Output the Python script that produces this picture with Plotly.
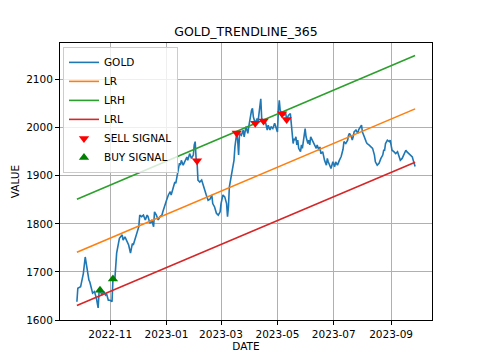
import plotly.graph_objects as go

# ---- data ----
dates = [
    "2022-09-26", "2022-09-27", "2022-09-30", "2022-10-03", "2022-10-05", "2022-10-07", "2022-10-09",
    "2022-10-10", "2022-10-13", "2022-10-15", "2022-10-17", "2022-10-19", "2022-10-20", "2022-10-21",
    "2022-10-23", "2022-10-25", "2022-10-27", "2022-10-28", "2022-10-30", "2022-11-01", "2022-11-03",
    "2022-11-04", "2022-11-06", "2022-11-08", "2022-11-11", "2022-11-14", "2022-11-15", "2022-11-17",
    "2022-11-19", "2022-11-21", "2022-11-23", "2022-11-25", "2022-11-26", "2022-11-28", "2022-11-30",
    "2022-12-02", "2022-12-03", "2022-12-05", "2022-12-07", "2022-12-09", "2022-12-11", "2022-12-12",
    "2022-12-14", "2022-12-16", "2022-12-18", "2022-12-19", "2022-12-21", "2022-12-23", "2022-12-25",
    "2022-12-27", "2022-12-28", "2022-12-30", "2023-01-01", "2023-01-03", "2023-01-05", "2023-01-06",
    "2023-01-08", "2023-01-10", "2023-01-11", "2023-01-13", "2023-01-14", "2023-01-15", "2023-01-16",
    "2023-01-17", "2023-01-19", "2023-01-21", "2023-01-23", "2023-01-24", "2023-01-26", "2023-01-28",
    "2023-01-30", "2023-01-31", "2023-02-01", "2023-02-02", "2023-02-03", "2023-02-04", "2023-02-06",
    "2023-02-08", "2023-02-10", "2023-02-11", "2023-02-13", "2023-02-15", "2023-02-17", "2023-02-19",
    "2023-02-20", "2023-02-22", "2023-02-24", "2023-02-26", "2023-02-28", "2023-03-01", "2023-03-03",
    "2023-03-05", "2023-03-07", "2023-03-08", "2023-03-09", "2023-03-10", "2023-03-12", "2023-03-14",
    "2023-03-15", "2023-03-16", "2023-03-17", "2023-03-18", "2023-03-19", "2023-03-20", "2023-03-21",
    "2023-03-23", "2023-03-25", "2023-03-26", "2023-03-28", "2023-03-30", "2023-03-31", "2023-04-01",
    "2023-04-03", "2023-04-04", "2023-04-05", "2023-04-07", "2023-04-09", "2023-04-10", "2023-04-12",
    "2023-04-13", "2023-04-14", "2023-04-16", "2023-04-18", "2023-04-20", "2023-04-21", "2023-04-23",
    "2023-04-24", "2023-04-26", "2023-04-28", "2023-04-30", "2023-05-01", "2023-05-02", "2023-05-03",
    "2023-05-04", "2023-05-06", "2023-05-08", "2023-05-10", "2023-05-11", "2023-05-13", "2023-05-15",
    "2023-05-16", "2023-05-17", "2023-05-18", "2023-05-19", "2023-05-20", "2023-05-21", "2023-05-22",
    "2023-05-23", "2023-05-24", "2023-05-26", "2023-05-27", "2023-05-28", "2023-05-30", "2023-05-31",
    "2023-06-01", "2023-06-03", "2023-06-04", "2023-06-05", "2023-06-06", "2023-06-08", "2023-06-10",
    "2023-06-12", "2023-06-13", "2023-06-15", "2023-06-16", "2023-06-17", "2023-06-19", "2023-06-21",
    "2023-06-23", "2023-06-24", "2023-06-25", "2023-06-27", "2023-06-28", "2023-06-30", "2023-07-02",
    "2023-07-03", "2023-07-05", "2023-07-07", "2023-07-09", "2023-07-11", "2023-07-12", "2023-07-14",
    "2023-07-16", "2023-07-17", "2023-07-18", "2023-07-20", "2023-07-21", "2023-07-22", "2023-07-23",
    "2023-07-25", "2023-07-27", "2023-07-28", "2023-07-30", "2023-07-31", "2023-08-01", "2023-08-02",
    "2023-08-03", "2023-08-05", "2023-08-06", "2023-08-08", "2023-08-10", "2023-08-12", "2023-08-14",
    "2023-08-15", "2023-08-17", "2023-08-19", "2023-08-21", "2023-08-23", "2023-08-24", "2023-08-25",
    "2023-08-26", "2023-08-28", "2023-08-30", "2023-08-31", "2023-09-01", "2023-09-02", "2023-09-04",
    "2023-09-06", "2023-09-08", "2023-09-10", "2023-09-11", "2023-09-13", "2023-09-15", "2023-09-17",
    "2023-09-18", "2023-09-20", "2023-09-22", "2023-09-24", "2023-09-25", "2023-09-26", "2023-09-27",
]
gold = [
    1638, 1666, 1669, 1697, 1731, 1704, 1683,
    1679, 1656, 1659, 1646, 1625, 1659, 1662,
    1652, 1659, 1652, 1655, 1641, 1641, 1638,
    1685, 1683, 1739, 1770, 1777, 1766, 1773,
    1766, 1756, 1739, 1759, 1756, 1770, 1780,
    1794, 1818, 1815, 1818, 1808, 1818, 1815,
    1801, 1808, 1794, 1825, 1818, 1808, 1815,
    1818, 1825, 1839, 1849, 1860, 1867, 1860,
    1877, 1887, 1884, 1905, 1912, 1926, 1922,
    1932, 1922, 1932, 1939, 1932, 1946, 1936,
    1943, 1964, 1971, 1936, 1931, 1891, 1887,
    1891, 1877, 1870, 1860, 1849, 1851, 1860,
    1842, 1835, 1822, 1818, 1825, 1842, 1860,
    1856, 1842, 1815, 1835, 1877, 1898, 1919,
    1932, 1960, 1981, 1989, 1974, 1943, 1988,
    1984, 1995, 1981, 2002, 1988, 2002, 2016,
    2036, 2040, 2022, 2009, 2019, 2012, 2043,
    2060, 2019, 2014, 2012, 1995, 2005, 1995,
    2002, 1998, 2009, 1995, 1991, 2033, 2057,
    2036, 2029, 2026, 2029, 2017, 2026, 2029,
    2008, 1981, 1967, 1977, 1974, 1981, 1964,
    1974, 1957, 1950, 1964, 1957, 1981, 1998,
    1981, 1967, 1974, 1964, 1981, 1974, 1967,
    1957, 1964, 1953, 1960, 1946, 1950, 1932,
    1922, 1936, 1929, 1919, 1915, 1929, 1919,
    1929, 1922, 1932, 1940, 1955, 1971, 1967,
    1974, 1984, 1988, 1981, 1974, 1981, 1991,
    1995, 1988, 1996, 2002, 2005, 1991, 1984,
    1981, 1971, 1967, 1964, 1960, 1957, 1943,
    1929, 1922, 1926, 1936, 1943, 1953, 1953,
    1967, 1974, 1971, 1974, 1964, 1953, 1950,
    1946, 1950, 1939, 1932, 1936, 1946, 1953,
    1950, 1946, 1943, 1939, 1932, 1922, 1919,
]

sell_dates = ["2023-02-03", "2023-03-18", "2023-04-07", "2023-04-16", "2023-05-06", "2023-05-11"]
sell_values = [1931, 1989, 2009, 2014, 2029, 2017]
buy_dates = ["2022-10-21", "2022-11-04"]
buy_values = [1662, 1685]

trend_dates = ["2022-09-26", "2023-09-27"]
lr_values = [1741, 2039]
lrh_values = [1851, 2150]
lrl_values = [1630, 1928]

x_tick_vals = ["2022-11-01", "2023-01-01", "2023-03-01", "2023-05-01", "2023-07-01", "2023-09-01"]
x_tick_text = ["2022-11", "2023-01", "2023-03", "2023-05", "2023-07", "2023-09"]
y_tick_vals = [1600, 1700, 1800, 1900, 2000, 2100]

FONT = "DejaVu Sans"
# the page body keeps an 8px default margin, so the figure is sized to fit the 480x360 window
PAGE_OFFSET = 8
W, H = 480 - PAGE_OFFSET, 360 - PAGE_OFFSET

fig = go.Figure()
fig.add_trace(go.Scatter(x=dates, y=gold, mode="lines", name="GOLD",
                         line=dict(color="#1f77b4", width=1.6)))
fig.add_trace(go.Scatter(x=trend_dates, y=lr_values, mode="lines", name="LR",
                         line=dict(color="#ff7f0e", width=1.6)))
fig.add_trace(go.Scatter(x=trend_dates, y=lrh_values, mode="lines", name="LRH",
                         line=dict(color="#2ca02c", width=1.6)))
fig.add_trace(go.Scatter(x=trend_dates, y=lrl_values, mode="lines", name="LRL",
                         line=dict(color="#d62728", width=1.6)))
fig.add_trace(go.Scatter(x=sell_dates, y=sell_values, mode="markers", name="SELL SIGNAL",
                         marker=dict(symbol="triangle-down", color="red", size=9)))
fig.add_trace(go.Scatter(x=buy_dates, y=buy_values, mode="markers", name="BUY SIGNAL",
                         marker=dict(symbol="triangle-up", color="green", size=9)))

axis_common = dict(
    showline=True, linecolor="black", linewidth=1, mirror=True,
    ticks="outside", ticklen=4, tickcolor="black", tickwidth=1,
    showgrid=True, gridcolor="#b0b0b0", gridwidth=0.8,
    zeroline=False, tickfont=dict(family=FONT, size=10.5, color="black"),
)

fig.update_layout(
    width=W, height=H,
    margin=dict(l=60 - PAGE_OFFSET, r=48, t=43 - PAGE_OFFSET, b=40, autoexpand=False),
    paper_bgcolor="white", plot_bgcolor="white",
    font=dict(family=FONT, size=10.5, color="black"),
    title=dict(text="GOLD_TRENDLINE_365", x=0.5, xref="paper", xanchor="center",
               y=1 - (32 - PAGE_OFFSET) / H, yref="container", yanchor="middle",
               font=dict(family=FONT, size=12.5, color="black")),
    xaxis=dict(range=["2022-09-07 17:00", "2023-10-15 07:00"],
               tickvals=x_tick_vals, ticktext=x_tick_text,
               title=dict(text="DATE", standoff=4, font=dict(family=FONT, size=10.5)),
               **axis_common),
    yaxis=dict(range=[1600, 2176], tickvals=y_tick_vals,
               title=dict(text="VALUE", standoff=4, font=dict(family=FONT, size=10.5)),
               **axis_common),
    legend=dict(x=0.008, y=0.986, xanchor="left", yanchor="top",
                bgcolor="rgba(255,255,255,0.8)", bordercolor="#cccccc", borderwidth=1,
                font=dict(family=FONT, size=10.5, color="black"),
                tracegroupgap=0, itemwidth=30),
    showlegend=True,
)

fig.write_html("out.html")
